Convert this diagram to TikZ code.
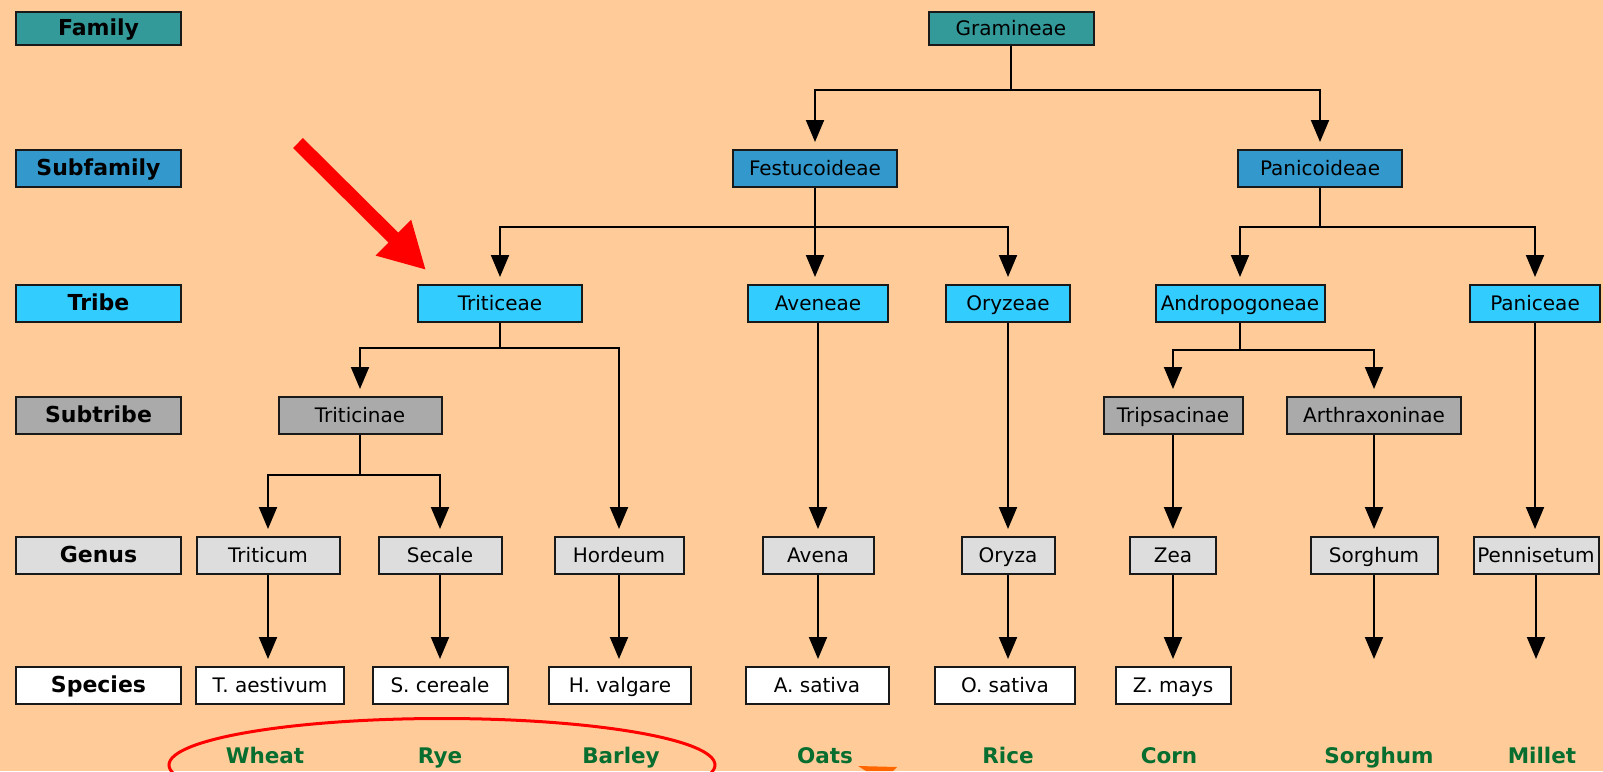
\documentclass[tikz,border=0pt]{standalone}
\usepackage{fontspec}
\setmainfont{DejaVu Sans}
\usetikzlibrary{arrows.meta}
\definecolor{bg}{RGB}{255,204,153}
\definecolor{cfam}{RGB}{51,153,153}
\definecolor{csub}{RGB}{51,153,204}
\definecolor{ctri}{RGB}{51,204,255}
\definecolor{cstr}{RGB}{170,170,170}
\definecolor{cgen}{RGB}{221,221,221}
\definecolor{cspe}{RGB}{255,255,255}
\definecolor{boxline}{RGB}{25,25,25}
\definecolor{cgreen}{RGB}{8,110,48}
\definecolor{corange}{RGB}{255,102,0}
\begin{document}
\begin{tikzpicture}[x=1pt,y=-1pt,
  box/.style={draw=boxline, line width=2pt, inner sep=0pt, minimum height=37pt,
    text height=14.5pt, text depth=0pt, font=\fontsize{20}{24}\selectfont},
  famb/.style={box, fill=cfam, minimum height=33pt},
  subb/.style={box, fill=csub},
  trib/.style={box, fill=ctri},
  strb/.style={box, fill=cstr},
  genb/.style={box, fill=cgen},
  speb/.style={box, fill=cspe},
  lab/.style={minimum width=165pt, font=\fontsize{22}{26}\selectfont\bfseries},
  common/.style={anchor=base, text=cgreen, inner sep=0pt, font=\fontsize{21.5}{24}\selectfont\bfseries},
  conn/.style={line width=2pt, draw=black},
  arr/.style={conn, -{Triangle[width=18pt,length=22pt]}, shorten >=7pt},
  bigred/.style={red, line width=14pt, -{Triangle[width=47pt,length=46pt]}}
]
\useasboundingbox (0,0) rectangle (1603,771);
\fill[bg] (0,0) rectangle (1603,771);
\clip (0,0) rectangle (1603,771);

% level labels
\node[famb, lab] (lFam) at (98.5,28.5) {Family};
\node[subb, lab] (lSub) at (98.5,168.5) {Subfamily};
\node[trib, lab] (lTri) at (98.5,303.5) {Tribe};
\node[strb, lab] (lStr) at (98.5,415.5) {Subtribe};
\node[genb, lab] (lGen) at (98.5,555.5) {Genus};
\node[speb, lab] (lSpe) at (98.5,685.5) {Species};

% family
\node[famb, minimum width=165pt] (gram) at (1011,28.5) {Gramineae};
% subfamily
\node[subb, minimum width=164pt] (fest) at (815,168.5) {Festucoideae};
\node[subb, minimum width=164pt] (pan) at (1320,168.5) {Panicoideae};
% tribe
\node[trib, minimum width=164pt] (trit) at (500,303.5) {Triticeae};
\node[trib, minimum width=140pt] (aven) at (818,303.5) {Aveneae};
\node[trib, minimum width=124pt] (oryz) at (1008,303.5) {Oryzeae};
\node[trib, minimum width=169pt] (andr) at (1240,303.5) {Andropogoneae};
\node[trib, minimum width=130pt] (panic) at (1535,303.5) {Paniceae};
% subtribe
\node[strb, minimum width=163pt] (tritn) at (360,415.5) {Triticinae};
\node[strb, minimum width=139pt] (trips) at (1173,415.5) {Tripsacinae};
\node[strb, minimum width=174pt] (arth) at (1374,415.5) {Arthraxoninae};
% genus
\node[genb, minimum width=143pt] (tritc) at (268,555.5) {Triticum};
\node[genb, minimum width=123pt] (secal) at (440,555.5) {Secale};
\node[genb, minimum width=129pt] (horde) at (619,555.5) {Hordeum};
\node[genb, minimum width=111pt] (avena) at (818,555.5) {Avena};
\node[genb, minimum width=93pt] (oryza) at (1008,555.5) {Oryza};
\node[genb, minimum width=86pt] (zea) at (1173,555.5) {Zea};
\node[genb, minimum width=127pt] (sorg) at (1374,555.5) {Sorghum};
\node[genb, minimum width=125pt] (penn) at (1536,555.5) {Pennisetum};
% species
\node[speb, minimum width=148pt] (taest) at (270,685.5) {T. aestivum};
\node[speb, minimum width=135pt] (scer) at (440,685.5) {S. cereale};
\node[speb, minimum width=142pt] (hval) at (620,685.5) {H. valgare};
\node[speb, minimum width=143pt] (asat) at (817,685.5) {A. sativa};
\node[speb, minimum width=140pt] (osat) at (1005,685.5) {O. sativa};
\node[speb, minimum width=115pt] (zmays) at (1173,685.5) {Z. mays};

% bus levels
\coordinate (busA) at (0,90);
\coordinate (busB) at (0,227);
\coordinate (busC) at (0,348);
\coordinate (busD) at (0,350);
\coordinate (busE) at (0,475);
\coordinate (spTop) at (0,666);

% connectors
\draw[conn] (gram.south) -- (gram.south |- busA);
\draw[arr] (gram.south |- busA) -| (fest.north);
\draw[arr] (gram.south |- busA) -| (pan.north);

\draw[conn] (fest.south) -- (fest.south |- busB);
\draw[arr] (fest.south |- busB) -| (trit.north);
\draw[arr] (fest.south) -- (fest.south |- aven.north);
\draw[arr] (fest.south |- busB) -| (oryz.north);

\draw[conn] (pan.south) -- (pan.south |- busB);
\draw[arr] (pan.south |- busB) -| (andr.north);
\draw[arr] (pan.south |- busB) -| (panic.north);

\draw[conn] (trit.south) -- (trit.south |- busC);
\draw[arr] (trit.south |- busC) -| (tritn.north);
\draw[arr] (trit.south |- busC) -| (horde.north);

\draw[arr] (aven.south) -- (aven.south |- avena.north);
\draw[arr] (oryz.south) -- (oryz.south |- oryza.north);

\draw[conn] (andr.south) -- (andr.south |- busD);
\draw[arr] (andr.south |- busD) -| (trips.north);
\draw[arr] (andr.south |- busD) -| (arth.north);

\draw[arr] (panic.south) -- (panic.south |- penn.north);

\draw[conn] (tritn.south) -- (tritn.south |- busE);
\draw[arr] (tritn.south |- busE) -| (tritc.north);
\draw[arr] (tritn.south |- busE) -| (secal.north);

\draw[arr] (trips.south) -- (trips.south |- zea.north);
\draw[arr] (arth.south) -- (arth.south |- sorg.north);

\draw[arr] (tritc.south) -- (tritc.south |- taest.north);
\draw[arr] (secal.south) -- (secal.south |- scer.north);
\draw[arr] (horde.south) -- (horde.south |- hval.north);
\draw[arr] (avena.south) -- (avena.south |- asat.north);
\draw[arr] (oryza.south) -- (oryza.south |- osat.north);
\draw[arr] (zea.south) -- (zea.south |- zmays.north);
\draw[arr] (sorg.south) -- (sorg.south |- spTop);
\draw[arr] (penn.south) -- (penn.south |- spTop);

% common names
\node[common] (nWheat) at (265,763) {Wheat};
\node[common] (nRye) at (440,763) {Rye};
\node[common] (nBarley) at (621,763) {Barley};
\node[common] (nOats) at (825,763) {Oats};
\node[common] (nRice) at (1008,763) {Rice};
\node[common] (nCorn) at (1169,763) {Corn};
\node[common] (nSorghum) at (1379,763) {Sorghum};
\node[common] (nMillet) at (1542,763) {Millet};

% red pointer arrow
\coordinate (rtail) at (298,143);
\coordinate (rtip) at (426,270);
\draw[bigred] (rtail) -- (rtip);

% red ellipse
\draw[red, line width=3pt] (442,765) ellipse [x radius=273pt, y radius=46.5pt];

% orange fragment
\fill[corange] (858,766) -- (897,767) -- (893,771) -- (866,771) -- cycle;
\end{tikzpicture}
\end{document}
